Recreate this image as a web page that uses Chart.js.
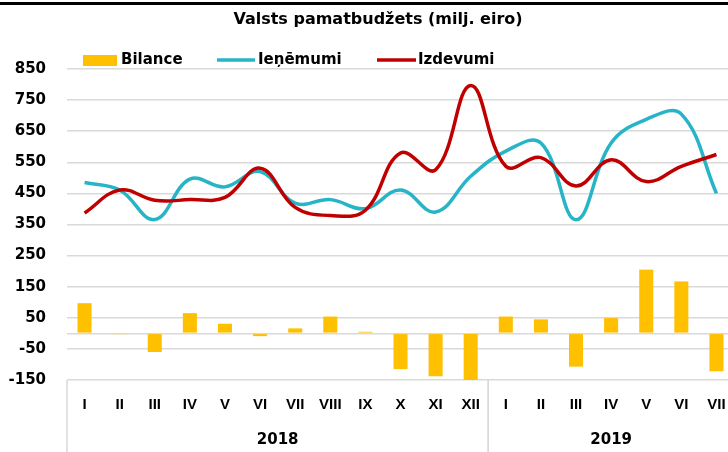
<!DOCTYPE html>
<html>
<head>
<meta charset="utf-8">
<script src="https://cdn.jsdelivr.net/npm/chart.js@4.4.1/dist/chart.umd.min.js"></script>
<style>
  html, body { margin: 0; padding: 0; background: #fff; overflow: hidden; }
  #wrap { width: 740px; height: 452px; }
</style>
</head>
<body>
<div id="wrap"><canvas id="budgetChart" width="740" height="452"></canvas></div>
<script>
// data (milj. eiro)
const months = ['I', 'II', 'III', 'IV', 'V', 'VI', 'VII', 'VIII', 'IX', 'X', 'XI', 'XII',
                'I', 'II', 'III', 'IV', 'V', 'VI', 'VII'];
const years = ['2018', '2019'];
const yearLengths = [12, 7];
const bilance   = [97, -3, -60, 65, 31, -9, 16, 54, 5, -115, -138, -290, 54, 45, -107, 49, 205, 167, -122];
const ienemumi  = [485, 461, 366, 496, 471, 520, 419, 430, 401, 461, 390, 505, 586, 612, 365, 612, 688, 705, 450];
const izdevumi  = [387, 461, 428, 430, 437, 531, 405, 379, 396, 580, 526, 797, 537, 565, 474, 558, 488, 537, 575];
const yTickValues = [-150, -50, 0, 50, 150, 250, 350, 450, 550, 650, 750, 850];

const titleText = 'Valsts pamatbudžets (milj. eiro)';
const colBar = '#FFC000';
const colIn = '#27B4C7';
const colOut = '#C00000';
const gridCol = '#D9D9D9';

const extras = {
    id: 'extras',
    afterDraw(chart) {
        const ctx = chart.ctx;
        const x = chart.scales.x;
        const area = chart.chartArea;
        ctx.save();

        // top border
        ctx.fillStyle = '#000';
        ctx.fillRect(0, 2, 740, 3);

        // title
        ctx.font = 'bold 16px "DejaVu Sans"';
        ctx.textAlign = 'center';
        ctx.textBaseline = 'middle';
        ctx.fillText(titleText, 378, 20);

        // legend
        ctx.font = 'bold 15px "DejaVu Sans"';
        ctx.textAlign = 'left';
        ctx.fillStyle = colBar;
        ctx.fillRect(83, 55, 34, 11);
        ctx.fillStyle = '#000';
        ctx.fillText('Bilance', 121, 60);
        ctx.lineWidth = 3.5;
        ctx.strokeStyle = colIn;
        ctx.beginPath(); ctx.moveTo(217, 60); ctx.lineTo(255, 60); ctx.stroke();
        ctx.fillText('Ieņēmumi', 258, 60);
        ctx.strokeStyle = colOut;
        ctx.beginPath(); ctx.moveTo(377, 60); ctx.lineTo(416, 60); ctx.stroke();
        ctx.fillText('Izdevumi', 418, 60);

        // month labels
        ctx.font = 'bold 15px "Liberation Sans"';
        ctx.textAlign = 'center';
        months.forEach((m, i) => {
            ctx.fillText(m, x.getPixelForValue(i), 405);
        });

        // year groups
        ctx.strokeStyle = gridCol;
        ctx.lineWidth = 1.5;
        ctx.font = 'bold 15px "DejaVu Sans"';
        let start = 0;
        years.forEach((y, k) => {
            const end = start + yearLengths[k] - 1;
            const half = (x.getPixelForValue(1) - x.getPixelForValue(0)) / 2;
            const left = x.getPixelForValue(start) - half;
            const right = x.getPixelForValue(end) + half;
            ctx.beginPath();
            ctx.moveTo(left, area.bottom); ctx.lineTo(left, 452);
            ctx.moveTo(right, area.bottom); ctx.lineTo(right, 452);
            ctx.stroke();
            ctx.fillText(y, (left + right) / 2, 440);
            start = end + 1;
        });
        ctx.restore();
    }
};

document.addEventListener('DOMContentLoaded', function () {
    const ctx = document.getElementById('budgetChart').getContext('2d');
    new Chart(ctx, {
        type: 'bar',
        data: {
            labels: months,
            datasets: [
                {
                    type: 'line',
                    label: 'Izdevumi',
                    data: izdevumi,
                    borderColor: colOut,
                    borderWidth: 3.5,
                    pointRadius: 0,
                    tension: 0.4,
                    fill: false,
                    order: 1
                },
                {
                    type: 'line',
                    label: 'Ieņēmumi',
                    data: ienemumi,
                    borderColor: colIn,
                    borderWidth: 3.5,
                    pointRadius: 0,
                    tension: 0.4,
                    fill: false,
                    order: 2
                },
                {
                    label: 'Bilance',
                    data: bilance,
                    backgroundColor: colBar,
                    categoryPercentage: 1,
                    barPercentage: 0.4,
                    order: 3
                }
            ]
        },
        options: {
            responsive: false,
            animation: false,
            layout: { padding: { top: 69, right: 6, left: 0, bottom: 0 } },
            plugins: {
                legend: { display: false },
                title: { display: false },
                tooltip: { enabled: false }
            },
            scales: {
                x: {
                    ticks: { display: false },
                    grid: { display: false },
                    border: { display: false },
                    afterFit(scale) { scale.height = 72; }
                },
                y: {
                    min: -150,
                    max: 850,
                    afterBuildTicks(scale) {
                        scale.ticks = yTickValues.map(v => ({ value: v }));
                    },
                    afterFit(scale) { scale.width = 67; },
                    ticks: {
                        padding: 21,
                        color: '#000',
                        font: { family: 'DejaVu Sans', size: 15, weight: 'bold' },
                        callback: v => (v === 0 ? '' : v)
                    },
                    grid: { color: gridCol, lineWidth: 1.5, drawTicks: false },
                    border: { display: false }
                }
            }
        },
        plugins: [extras]
    });
});
</script>
</body>
</html>
